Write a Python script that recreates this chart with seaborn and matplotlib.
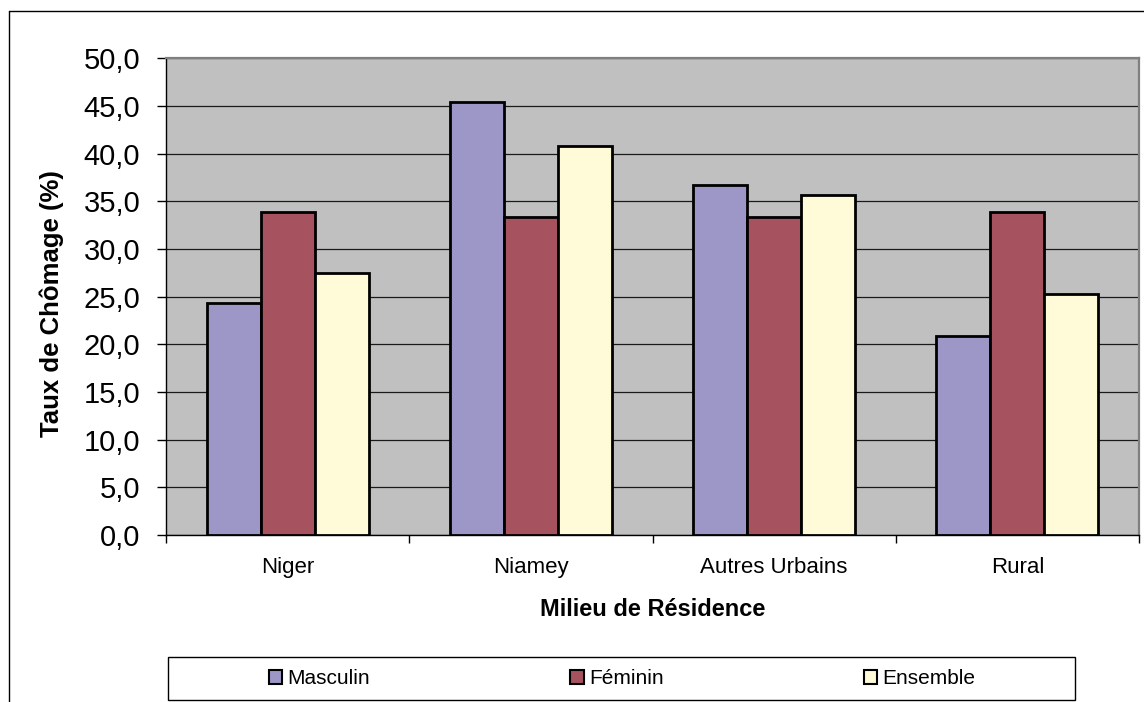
import matplotlib
matplotlib.use("Agg")
import matplotlib.pyplot as plt
from matplotlib.patches import Patch, Rectangle
from matplotlib.lines import Line2D
from matplotlib.ticker import FixedLocator
import seaborn as sns
import pandas as pd

# Unemployment rate (%) by area of residence and sex
milieux = ["Niger", "Niamey", "Autres Urbains", "Rural"]
series = ["Masculin", "Féminin", "Ensemble"]
masculin = [24.3, 45.4, 36.7, 20.9]
feminin = [33.9, 33.4, 33.4, 33.9]
ensemble = [27.5, 40.8, 35.7, 25.3]
y_ticks = [0, 5, 10, 15, 20, 25, 30, 35, 40, 45, 50]
y_tick_labels = ["0,0", "5,0", "10,0", "15,0", "20,0", "25,0",
                 "30,0", "35,0", "40,0", "45,0", "50,0"]

colors = ["#9D97C8", "#A6525F", "#FFFAD7"]

df = pd.DataFrame({
    "Milieu": milieux * 3,
    "Sexe": [s for s in series for _ in milieux],
    "Taux": masculin + feminin + ensemble,
})

sns.set_style("white")
plt.rcParams["font.family"] = ["Liberation Sans", "DejaVu Sans"]
plt.rcParams.update({"text.color": "black", "axes.labelcolor": "black",
                     "xtick.color": "black", "ytick.color": "black"})

W, H = 1144, 702
fig = plt.figure(figsize=(W / 100, H / 100), dpi=100)
fig.patch.set_facecolor("white")

left, right, top, bottom = 166, 1139, 58.3, 535
ax = fig.add_axes([left / W, 1 - bottom / H, (right - left) / W, (bottom - top) / H])
ax.set_facecolor("#C0C0C0")

sns.barplot(data=df, x="Milieu", y="Taux", hue="Sexe", order=milieux,
            hue_order=series, palette=colors, width=0.667, saturation=1,
            edgecolor="black", linewidth=2, ax=ax, legend=False, zorder=3)

ax.set_xlim(-0.5, len(milieux) - 0.5)
ax.set_ylim(0, 50)
ax.set_yticks(y_ticks)
ax.set_yticklabels(y_tick_labels, fontsize=21)
ax.yaxis.grid(True, color="#1a1a1a", linewidth=0.9, zorder=1)
ax.xaxis.grid(False)
ax.set_axisbelow(True)

ax.tick_params(axis="y", which="major", direction="out", length=6.5,
               width=1, color="black", pad=12, left=True)
ax.tick_params(axis="x", which="major", length=0, pad=16, labelsize=16)
ax.xaxis.set_minor_locator(FixedLocator([i - 0.5 for i in range(len(milieux) + 1)]))
ax.tick_params(axis="x", which="minor", direction="out", length=6,
               width=1, color="black", bottom=True)

for side in ["left", "bottom"]:
    ax.spines[side].set_color("black")
    ax.spines[side].set_linewidth(1)
for side in ["top", "right"]:
    ax.spines[side].set_visible(True)
    ax.spines[side].set_color("#808080")
    ax.spines[side].set_linewidth(1.6)

ax.set_xlabel("Milieu de Résidence", fontsize=17, fontweight="bold")
ax.xaxis.label.set_va("center")
ax.xaxis.set_label_coords(0.5, (bottom - 609) / (bottom - top))
ax.set_ylabel("Taux de Chômage (%)", fontsize=18.5, fontweight="bold")
ax.yaxis.label.set_va("center")
ax.yaxis.set_label_coords((52 - left) / (right - left), (bottom - 304) / (bottom - top))

# Legend in a framed strip under the chart
handles = [Patch(facecolor=c, edgecolor="black", linewidth=1.5) for c in colors]
fig.legend(handles, series, ncol=3, loc="center",
           bbox_to_anchor=(622 / W, 1 - 679 / H), frameon=False,
           fontsize=15, handlelength=0.65, handleheight=0.65,
           handletextpad=0.25, columnspacing=9.6)
fig.patches.append(Rectangle((168 / W, 1 - 700 / H), (1075 - 168) / W, 43 / H,
                             transform=fig.transFigure, fill=False,
                             edgecolor="black", linewidth=1))

# Outer chart frame
fig.lines.append(Line2D([9 / W, 1.0], [1 - 11 / H, 1 - 11 / H],
                        transform=fig.transFigure, color="black", linewidth=1))
fig.lines.append(Line2D([9 / W, 9 / W], [1 - 11 / H, 0.0],
                        transform=fig.transFigure, color="black", linewidth=1))

fig.savefig("out.png", dpi=100)
